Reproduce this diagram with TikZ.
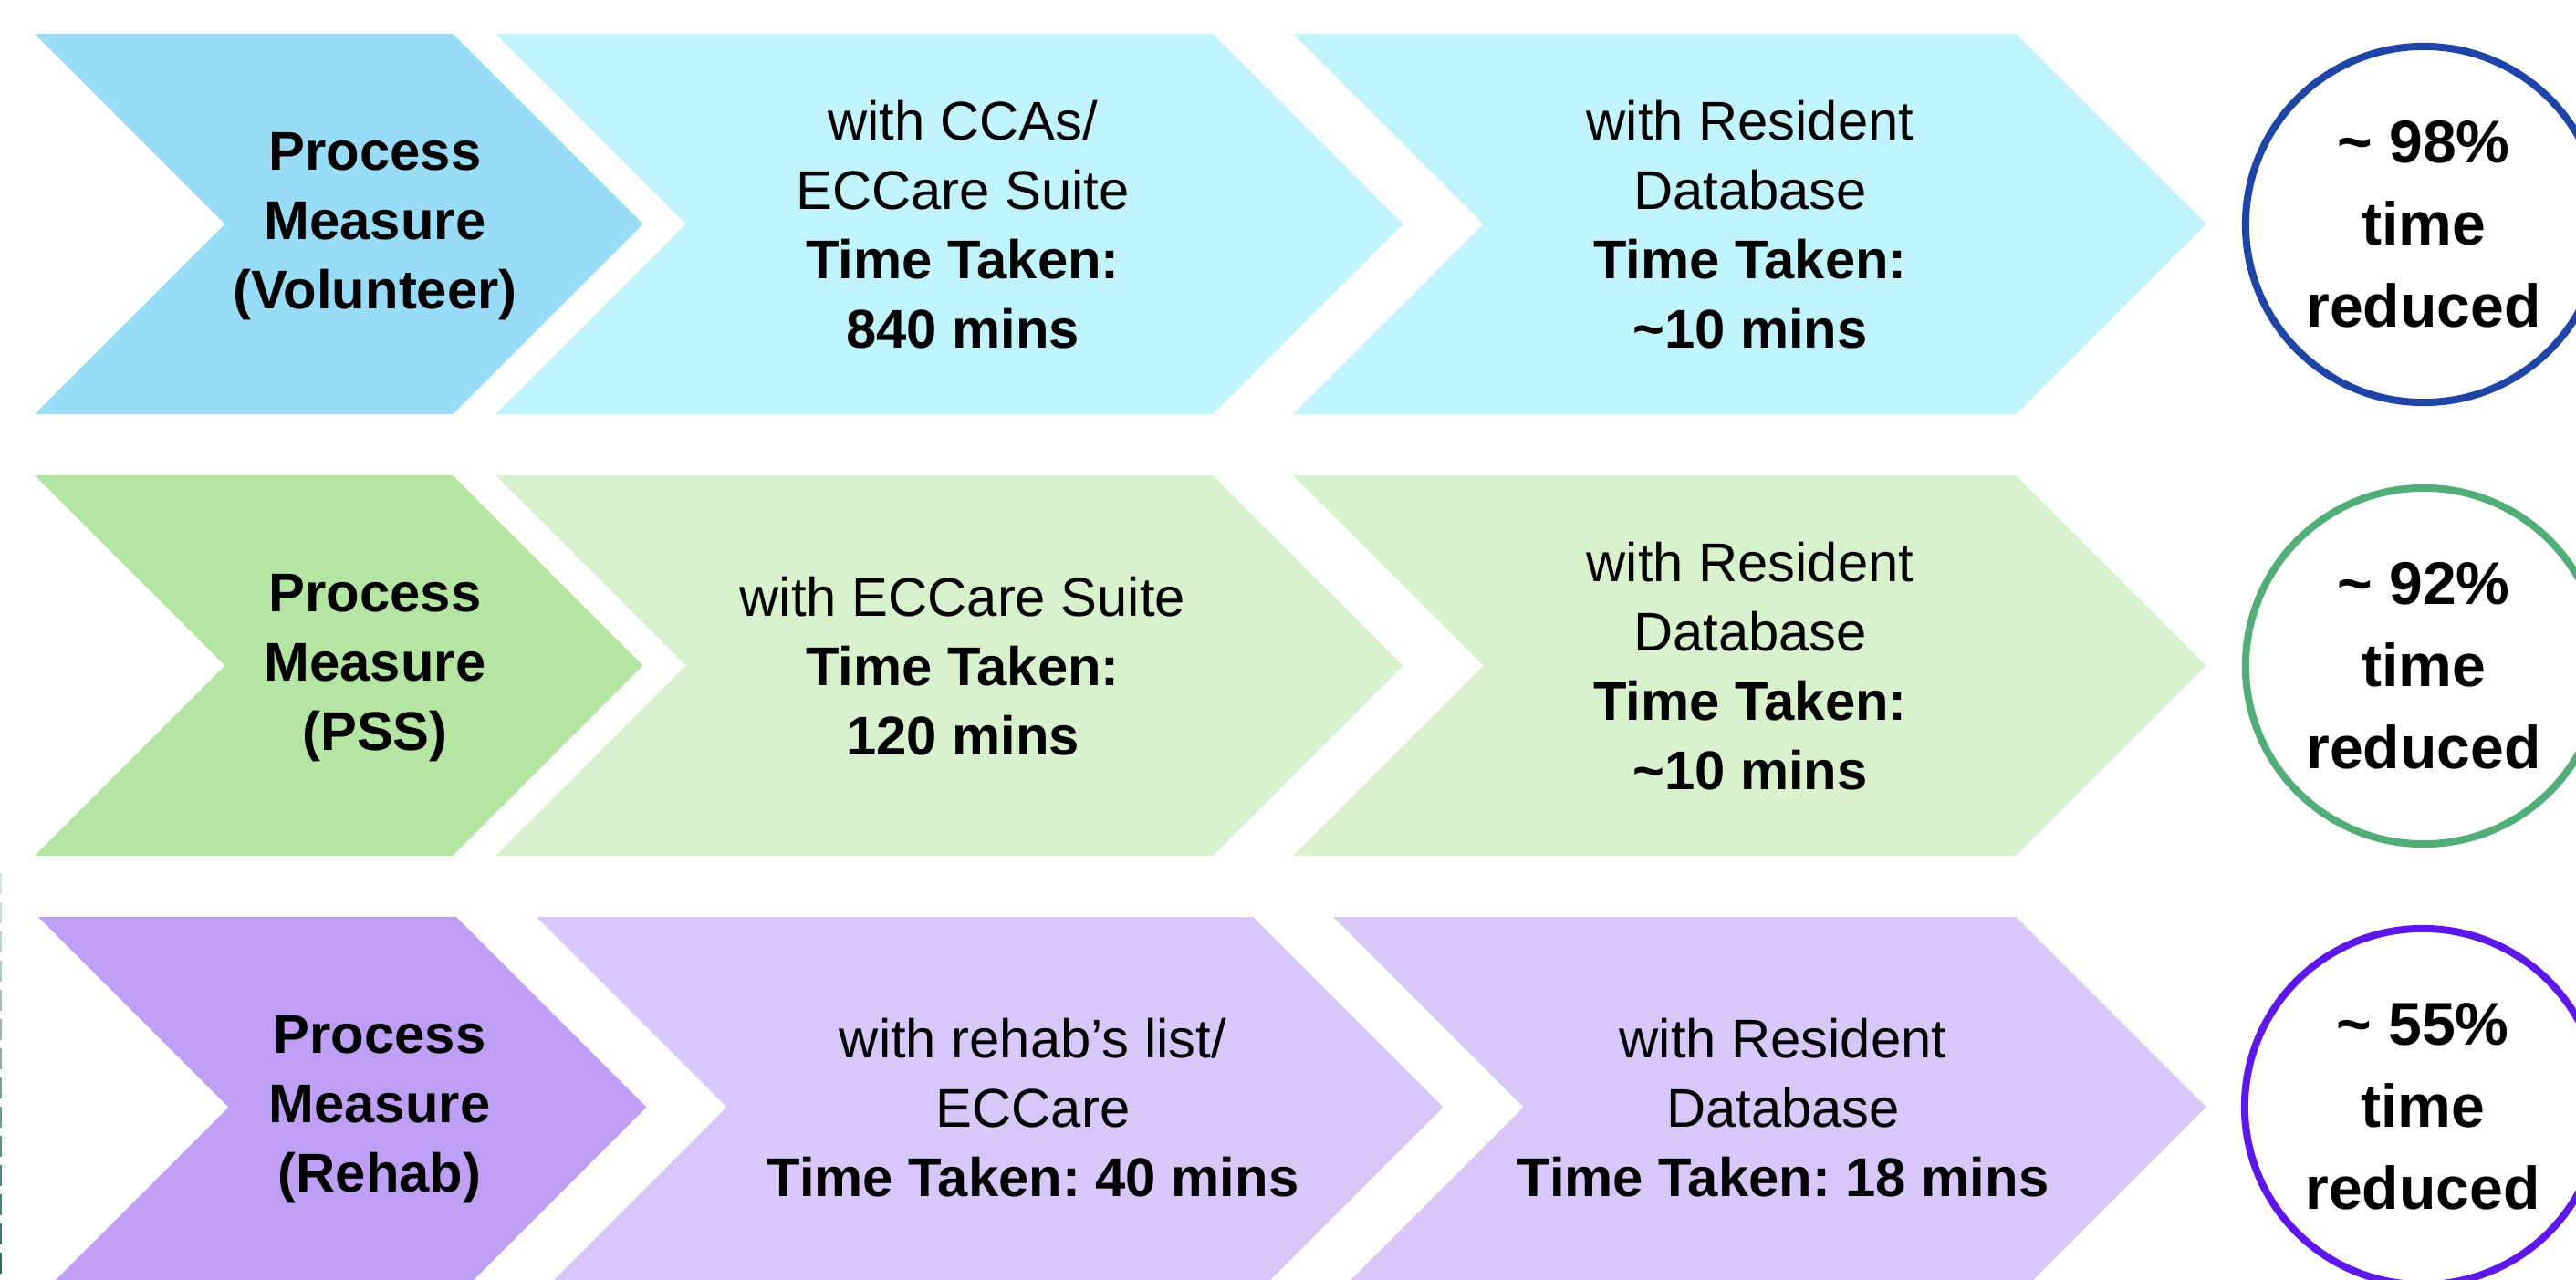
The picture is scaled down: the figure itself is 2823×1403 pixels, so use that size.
\documentclass[tikz,border=0pt]{standalone}
\usepackage{fontspec}
\setmainfont{Liberation Sans}
\usepackage{tikz}
\frenchspacing

\definecolor{volDark}{HTML}{99DCF7}
\definecolor{volLight}{HTML}{C1F4FD}
\definecolor{volRing}{HTML}{1E44A8}
\definecolor{pssDark}{HTML}{B5E5A3}
\definecolor{pssLight}{HTML}{D9F2CE}
\definecolor{pssRing}{HTML}{52AE78}
\definecolor{rehDark}{HTML}{BDA0F5}
\definecolor{rehLight}{HTML}{D8C8FA}
\definecolor{rehRing}{HTML}{5E17EB}
\definecolor{dashTeal}{HTML}{2A6F5E}

% left, right, top, colour
\newcommand{\chev}[4]{%
  \fill[#4] (#1,#3) -- (#2,#3) -- ++(208.5,208.5) -- ++(-208.5,208.5)
    -- (#1,#3+417) -- ++(208.5,-208.5) -- cycle;}

\begin{document}
\begin{tikzpicture}[x=0.01cm,y=-0.01cm,
    head/.style={align=center,inner sep=0pt,font=\fontsize{17}{21.6}\selectfont\bfseries},
    txt/.style={align=center,inner sep=0pt,font=\fontsize{17}{21.6}\selectfont},
    res/.style={circle,fill=white,line width=0.08cm,minimum size=3.9cm,inner sep=0pt,
      align=center,font=\fontsize{18.8}{25.6}\selectfont\bfseries}]
	\clip (0,0) rectangle (2823,1403);

	\chev{38}{496}{37}{volDark}
	\chev{543}{1329}{37}{volLight}
	\chev{1417}{2209}{37}{volLight}
	\chev{38}{496}{521}{pssDark}
	\chev{543}{1329}{521}{pssLight}
	\chev{1417}{2209}{521}{pssLight}
	\chev{42}{500}{1005}{rehDark}
	\chev{588}{1373}{1005}{rehLight}
	\chev{1461}{2209}{1005}{rehLight}

	\node[head] (vol)  at (411,248)  {Process\\Measure\\(Volunteer)};
	\node[txt]  (volA) at (1055,246) {with CCAs/\\ECCare Suite\\\textbf{Time Taken:}\\\textbf{840 mins}};
	\node[txt]  (volB) at (1918,246) {with Resident\\Database\\\textbf{Time Taken:}\\\textbf{\textasciitilde10 mins}};
	\node[res,draw=volRing] (volR) at (2656,246) {\textasciitilde\ 98\%\\time\\reduced};

	\node[head] (pss)  at (411,732)  {Process\\Measure\\(PSS)};
	\node[txt]  (pssA) at (1055,730) {with ECCare Suite\\\textbf{Time Taken:}\\\textbf{120 mins}};
	\node[txt]  (pssB) at (1918,730) {with Resident\\Database\\\textbf{Time Taken:}\\\textbf{\textasciitilde10 mins}};
	\node[res,draw=pssRing] (pssR) at (2656,730) {\textasciitilde\ 92\%\\time\\reduced};

	\node[head] (reh)  at (416,1216)  {Process\\Measure\\(Rehab)};
	\node[txt]  (rehA) at (1132,1214) {with rehab’s list/\\ECCare\\\textbf{Time Taken: 40 mins}};
	\node[txt]  (rehB) at (1954,1214) {with Resident\\Database\\\textbf{Time Taken: 18 mins}};
	\node[res,draw=rehRing] (rehR) at (2655,1213) {\textasciitilde\ 55\%\\time\\reduced};

	\foreach \i in {0,...,13} {
		\pgfmathtruncatemacro\pct{20+\i*80/13}
		\draw[line width=0.04cm,color={dashTeal!\pct!white}] (0,957+32*\i) -- ++(0,23);
	}
\end{tikzpicture}
\end{document}
